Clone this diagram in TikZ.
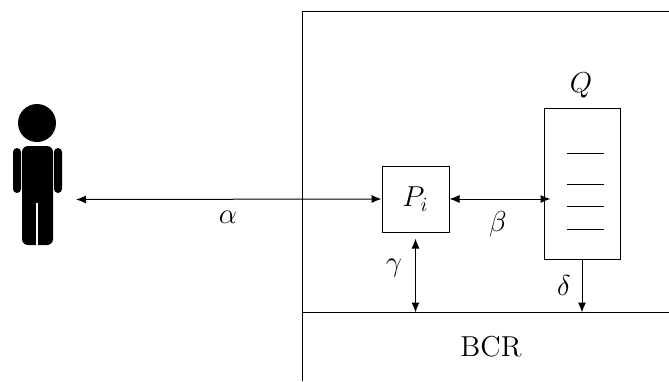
\documentclass[tikz,border=0pt]{standalone}
\usepackage{amsmath}
\usetikzlibrary{arrows.meta, positioning, calc}

\tikzset{
    link/.style={{Latex[length=5pt, width=4pt]}-{Latex[length=5pt, width=4pt]}},
    oneway/.style={-{Latex[length=5pt, width=4pt]}},
    lab/.style={font=\Large, inner sep=0pt},
}

\begin{document}
\begin{tikzpicture}[x=0.5pt, y=-0.5pt, line width=0.5pt]
    \useasboundingbox (0,0) rectangle (669,381);

    % person
    \fill (37,123) circle (9.5pt);
    \fill[rounded corners=3pt] (22,146) rectangle (53,245);
    \fill[rounded corners=2pt] (13,148) rectangle (21,193);
    \fill[rounded corners=2pt] (54,148) rectangle (62,193);
    \fill[white] (36.4,203) rectangle (37.6,246);
    \coordinate (user) at (76,199.5);

    % institution frame
    \draw (669,11) -- (302,11) -- (302,381);
    \coordinate (bcrleft) at (302,312.5);
    \coordinate (bcrright) at (669,312.5);
    \draw (bcrleft) -- (bcrright);
    \node[lab] (bcr) at (491,347) {BCR};

    \node[draw, minimum width=33.5pt, minimum height=33pt, inner sep=0pt, font=\Large] (proc) at (415.5,199) {$P_i$};
    \node[draw, minimum width=38pt, minimum height=75.5pt, inner sep=0pt] (queue) at (582,183.5) {};
    \node[lab] (qname) at (581,85) {$Q$};

    \foreach \y in {153.5,184,206,229}
        \draw (567,\y) -- (604,\y);

    \draw[link] (user) -- (proc.west);
    \draw[link, shorten >=-3.5pt] (proc.east) -- (proc.east -| queue.west);
    \draw[link] ([yshift=-3pt]proc.south) -- (proc.south |- bcrleft);
    \draw[oneway] (queue.south) -- (queue.south |- bcrleft);

    \node[lab] (alpha) at (228,217) {$\alpha$};
    \node[lab] (beta) at (498,224) {$\beta$};
    \node[lab] (gamma) at (394,268) {$\gamma$};
    \node[lab] (delta) at (564,285) {$\delta$};
\end{tikzpicture}
\end{document}
